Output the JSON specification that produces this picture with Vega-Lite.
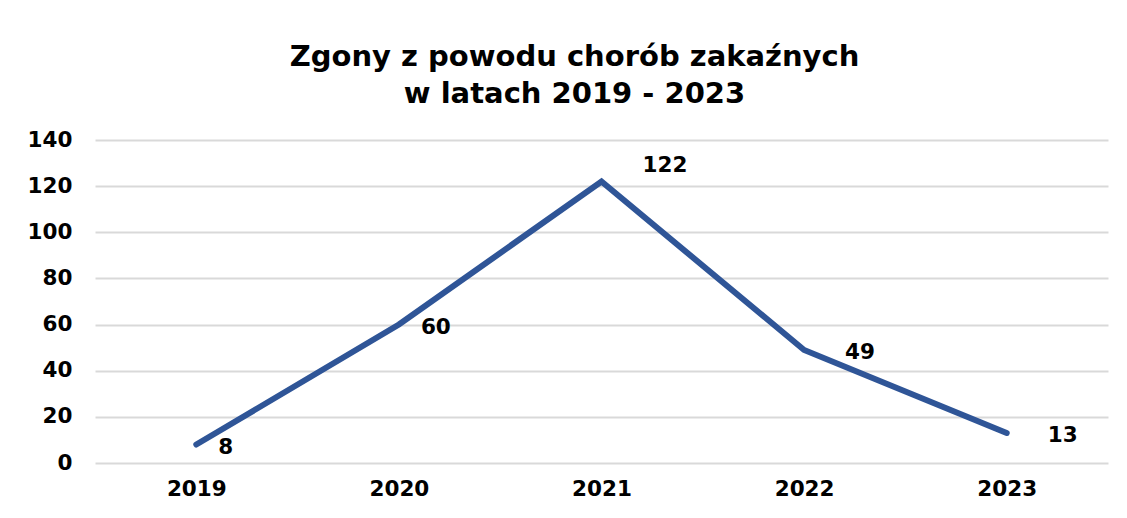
{
  "$schema": "https://vega.github.io/schema/vega-lite/v6.json",
  "autosize": "none",
  "width": 1013,
  "height": 323,
  "padding": {"left": 95, "top": 140, "right": 19, "bottom": 55},
  "background": "white",
  "title": {
    "text": ["Zgony z powodu chorób zakaźnych", "w latach 2019 - 2023"],
    "font": "DejaVu Sans",
    "fontSize": 29,
    "fontWeight": "bold",
    "color": "black",
    "anchor": "middle",
    "dx": -27,
    "offset": 20,
    "lineHeight": 37
  },
  "data": {
    "values": [
      {"year": "2019", "deaths": 8},
      {"year": "2020", "deaths": 60},
      {"year": "2021", "deaths": 122},
      {"year": "2022", "deaths": 49},
      {"year": "2023", "deaths": 13}
    ]
  },
  "encoding": {
    "x": {
      "field": "year", "type": "ordinal", "title": null,
      "scale": {"paddingInner": 0, "paddingOuter": 0.5},
      "axis": {"labelAngle": 0, "labelFont": "DejaVu Sans", "labelFontSize": 21.5, "labelFontWeight": "bold", "labelColor": "black", "domain": false, "ticks": false, "labelPadding": 15, "grid": false}
    },
    "y": {
      "field": "deaths", "type": "quantitative", "title": null,
      "scale": {"domain": [0, 140]},
      "axis": {"values": [0, 20, 40, 60, 80, 100, 120, 140], "labelFont": "DejaVu Sans", "labelFontSize": 21.5, "labelFontWeight": "bold", "labelColor": "black", "domain": false, "ticks": false, "labelPadding": 23, "gridColor": "#d9d9d9", "gridWidth": 2}
    }
  },
  "layer": [
    {"mark": {"type": "line", "color": "#2F5597", "strokeWidth": 6, "strokeCap": "round", "strokeJoin": "miter"}},
    {
      "transform": [{"filter": "datum.year == '2019' || datum.year == '2020'"}],
      "mark": {"type": "text", "align": "left", "baseline": "middle", "dx": 22, "dy": 3, "font": "DejaVu Sans", "fontSize": 21.5, "fontWeight": "bold", "color": "black"},
      "encoding": {"text": {"field": "deaths"}}
    },
    {
      "transform": [{"filter": "datum.year == '2022' || datum.year == '2023'"}],
      "mark": {"type": "text", "align": "left", "baseline": "middle", "dx": 41, "dy": 3, "font": "DejaVu Sans", "fontSize": 21.5, "fontWeight": "bold", "color": "black"},
      "encoding": {"text": {"field": "deaths"}}
    },
    {
      "transform": [{"filter": "datum.year == '2021'"}],
      "mark": {"type": "text", "align": "left", "baseline": "middle", "dx": 41, "dy": -16, "font": "DejaVu Sans", "fontSize": 21.5, "fontWeight": "bold", "color": "black"},
      "encoding": {"text": {"field": "deaths"}}
    }
  ],
  "config": {"view": {"stroke": null}}
}
